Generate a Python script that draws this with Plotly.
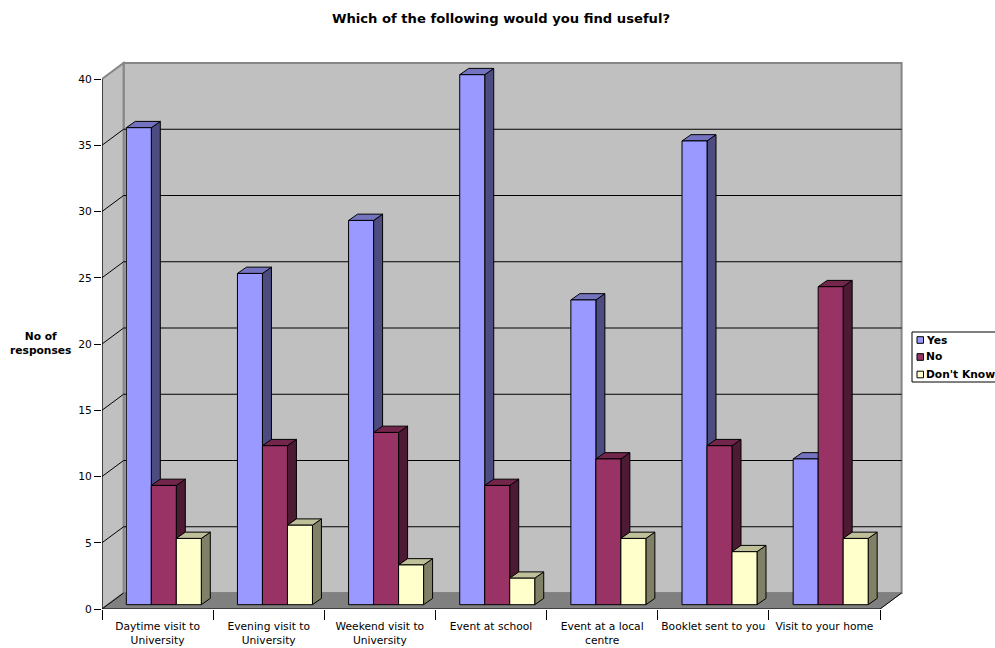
import plotly.graph_objects as go

# Survey responses per outreach option
categories = [
    "Daytime visit to<br>University",
    "Evening visit to<br>University",
    "Weekend visit to<br>University",
    "Event at school",
    "Event at a local<br>centre",
    "Booklet sent to you",
    "Visit to your home",
]
yes_values = [36, 25, 29, 40, 23, 35, 11]
no_values = [9, 12, 13, 9, 11, 12, 24]
dont_know_values = [5, 6, 3, 2, 5, 4, 5]
y_ticks = [0, 5, 10, 15, 20, 25, 30, 35, 40]

series = [
    ("Yes", yes_values, (153, 153, 255)),
    ("No", no_values, (153, 51, 102)),
    ("Don't Know", dont_know_values, (255, 255, 204)),
]

# Canvas geometry
WIDTH, HEIGHT = 995, 648
LEFT, BOTTOM_PX = 102, 609
RIGHT_PX, TOP_PX = 905, 60
X_SCALE = 778 / 7        # pixels per category
Y_SCALE = 530 / 40       # pixels per response

# Oblique projection offsets, in data units
WALL_DX, WALL_DY = 21.6 / X_SCALE, 16 / Y_SCALE
BAR_DX, BAR_DY = 9 / X_SCALE, 6.3 / Y_SCALE
BAR_BASE = 4.3 / Y_SCALE
BAR_WIDTH = 25 / X_SCALE
BAR_START = 24.3 / X_SCALE
N = len(categories)

TEXT_SIZE = 10.7


def rgb(c, k=1.0):
    return "rgb({},{},{})".format(*(round(v * k) for v in c))


def poly(points, fill, line="#000000", width=1, layer="below"):
    path = "M " + " L ".join(f"{x:.5f},{y:.5f}" for x, y in points) + " Z"
    return dict(type="path", path=path, xref="x", yref="y", fillcolor=fill,
                line=dict(color=line, width=width), layer=layer)


def seg(x0, y0, x1, y1, color="#000000", width=1):
    return dict(type="line", x0=x0, y0=y0, x1=x1, y1=y1, xref="x", yref="y",
                line=dict(color=color, width=width), layer="below")


def px_x(px):
    return (px - LEFT) / (RIGHT_PX - LEFT)


def px_y(py):
    return (BOTTOM_PX - py) / (BOTTOM_PX - TOP_PX)


shapes = []
top = y_ticks[-1]

# Back wall, side wall and floor
shapes.append(poly([(WALL_DX, WALL_DY), (N + WALL_DX, WALL_DY),
                    (N + WALL_DX, top + WALL_DY), (WALL_DX, top + WALL_DY)],
                   "#C0C0C0", "#868686", 2))
shapes.append(poly([(0, 0), (WALL_DX, WALL_DY), (WALL_DX, top + WALL_DY), (0, top)],
                   "#C0C0C0", "#868686", 2))
shapes.append(poly([(0, 0), (N, 0), (N + WALL_DX, WALL_DY), (WALL_DX, WALL_DY)],
                   "#808080", "#808080", 1))

# Gridlines wrap from the side wall onto the back wall
for v in y_ticks[1:-1]:
    shapes.append(seg(0, v, WALL_DX, v + WALL_DY))
    shapes.append(seg(WALL_DX, v + WALL_DY, N + WALL_DX, v + WALL_DY))
shapes.append(seg(0, 0, WALL_DX, WALL_DY))
shapes.append(seg(N, 0, N + WALL_DX, WALL_DY))

# Side and top faces of each column, left to right so nearer faces overlap
for i in range(N):
    for s, (_, values, color) in enumerate(series):
        x0 = i + BAR_START + s * BAR_WIDTH
        x1 = x0 + BAR_WIDTH
        y0 = BAR_BASE
        y1 = BAR_BASE + values[i]
        shapes.append(poly([(x1, y0), (x1 + BAR_DX, y0 + BAR_DY),
                            (x1 + BAR_DX, y1 + BAR_DY), (x1, y1)], rgb(color, 0.5)))
        shapes.append(poly([(x0, y1), (x1, y1), (x1 + BAR_DX, y1 + BAR_DY),
                            (x0 + BAR_DX, y1 + BAR_DY)], rgb(color, 0.75)))

# Legend box, open on its right side where it runs off the canvas
legend_left, legend_right = 912, 1010
legend_top, legend_bottom = 332, 382
shapes.append(dict(type="rect", xref="paper", yref="paper",
                   x0=px_x(legend_left), x1=px_x(legend_right),
                   y0=px_y(legend_bottom), y1=px_y(legend_top),
                   fillcolor="#FFFFFF", line=dict(color="#000000", width=1),
                   layer="above"))

annotations = [
    dict(text="<b>No of<br>responses</b>", xref="paper", yref="paper",
         x=px_x(40), y=px_y(343.5), xanchor="center", yanchor="middle",
         showarrow=False, font=dict(size=TEXT_SIZE, color="#000000")),
]
for (name, _, color), cy in zip(series, [340, 357, 374.5]):
    shapes.append(dict(type="rect", xref="paper", yref="paper",
                       x0=px_x(917), x1=px_x(923.5),
                       y0=px_y(cy + 3.3), y1=px_y(cy - 3.3),
                       fillcolor=rgb(color), line=dict(color="#000000", width=1),
                       layer="above"))
    annotations.append(dict(text=f"<b>{name}</b>", xref="paper", yref="paper",
                            x=px_x(924), y=px_y(cy), xanchor="left", yanchor="middle",
                            showarrow=False, font=dict(size=TEXT_SIZE, color="#000000")))

fig = go.Figure()

centers = [i + 0.5 for i in range(N)]
for s, (name, values, color) in enumerate(series):
    fig.add_trace(go.Bar(
        name=name, x=centers, y=values, base=BAR_BASE,
        width=BAR_WIDTH, offset=BAR_START + s * BAR_WIDTH - 0.5,
        marker=dict(color=rgb(color), line=dict(color="#000000", width=1)),
        showlegend=False,
    ))

# Axis lines stay unclipped so they keep their full width at the plot edge
fig.add_trace(go.Scatter(
    x=[0, 0, N], y=[top, 0, 0], mode="lines", cliponaxis=False,
    line=dict(color="#000000", width=1), hoverinfo="skip", showlegend=False,
))

fig.update_layout(
    width=WIDTH, height=HEIGHT, autosize=False,
    margin=dict(l=LEFT, r=WIDTH - RIGHT_PX, t=TOP_PX, b=HEIGHT - BOTTOM_PX,
                pad=0, autoexpand=False),
    paper_bgcolor="#FFFFFF", plot_bgcolor="#FFFFFF",
    barmode="overlay",
    font=dict(family="DejaVu Sans", size=TEXT_SIZE, color="#000000"),
    title=dict(text="<b>Which of the following would you find useful?</b>",
               xref="container", yref="container", x=501 / WIDTH, y=1 - 18 / HEIGHT,
               xanchor="center", yanchor="middle",
               font=dict(family="DejaVu Sans", size=13.15, color="#000000")),
    shapes=shapes, annotations=annotations, showlegend=False,
    xaxis=dict(
        range=[0, (RIGHT_PX - LEFT) / X_SCALE], tickmode="array",
        tickvals=centers, ticktext=categories, ticks="outside", ticklen=7,
        tickcolor="rgba(0,0,0,0)", showgrid=False, zeroline=False, showline=False,
        tickfont=dict(size=TEXT_SIZE), tickangle=0,
        minor=dict(tickmode="array", tickvals=list(range(N + 1)), ticks="outside",
                   ticklen=10, tickcolor="#000000", tickwidth=1, showgrid=False),
    ),
    yaxis=dict(
        range=[0, (BOTTOM_PX - TOP_PX) / Y_SCALE], tickmode="array",
        tickvals=y_ticks, ticks="outside", ticklen=7, tickcolor="#000000",
        showgrid=False, zeroline=False, showline=False, tickfont=dict(size=TEXT_SIZE),
    ),
)

fig.write_html("out.html")
